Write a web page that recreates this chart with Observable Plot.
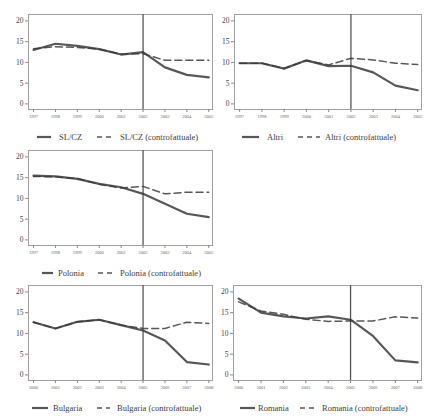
<!DOCTYPE html>
<html>
<head>
<meta charset="utf-8">
<script src="https://cdn.jsdelivr.net/npm/d3@7"></script>
<script src="https://cdn.jsdelivr.net/npm/@observablehq/plot@0.6"></script>
<style>
  html, body { margin: 0; padding: 0; background: #fff; }
  #root { position: relative; width: 425px; height: 416px; background: #fff; overflow: hidden; }
  .panel { position: absolute; }
  .legend { position: absolute; }
</style>
</head>
<body>
<div id="root"></div>
<script>
// ---- Data ----
const yearsA = [1997, 1998, 1999, 2000, 2001, 2002, 2003, 2004, 2005];
const yearsB = [2000, 2001, 2002, 2003, 2004, 2005, 2006, 2007, 2008];
const yTicks = [0, 5, 10, 15, 20];

const slczActual = [13.0, 14.5, 14.0, 13.2, 11.9, 12.5, 8.8, 7.0, 6.4];
const slczCf     = [13.3, 13.8, 13.6, 13.2, 12.0, 12.1, 10.5, 10.5, 10.5];

const altriActual = [9.8, 9.8, 8.5, 10.5, 9.1, 9.2, 7.6, 4.4, 3.3];
const altriCf     = [9.8, 9.8, 8.6, 10.4, 9.4, 11.0, 10.6, 9.8, 9.5];

const poloniaActual = [15.5, 15.3, 14.7, 13.5, 12.7, 11.1, 8.7, 6.3, 5.5];
const poloniaCf     = [15.3, 15.2, 14.8, 13.4, 12.5, 12.9, 11.1, 11.5, 11.5];

const bulgariaActual = [12.7, 11.2, 12.8, 13.3, 12.0, 10.7, 8.3, 3.1, 2.5];
const bulgariaCf     = [12.7, 11.2, 12.8, 13.3, 12.0, 11.2, 11.2, 12.7, 12.4];

const romaniaActual = [18.4, 15.0, 14.1, 13.6, 14.1, 13.3, 9.4, 3.5, 3.0];
const romaniaCf     = [17.6, 15.4, 14.6, 13.4, 12.9, 13.0, 13.0, 14.0, 13.7];

const treatA = 2002;
const treatB = 2005;

const labels = {
  slcz: "SL/CZ", altri: "Altri", polonia: "Polonia", bulgaria: "Bulgaria", romania: "Romania"
};
const cfSuffix = " (controfattuale)";

// ---- Drawing ----
const root = document.getElementById("root");
const lineColor = "#3a3a3a";
const font = "Liberation Serif, Times New Roman, serif";

function panel({years, actual, cf, treat, left, top, width, height, mL, mR, mT, mB}) {
  const chart = Plot.plot({
    width, height,
    marginLeft: mL, marginRight: mR, marginTop: mT, marginBottom: mB,
    style: { fontFamily: font, background: "transparent", overflow: "visible" },
    x: { domain: [years[0] - 0.23, years[years.length - 1] + 0.17] },
    y: { domain: [-1.35, 21.55] },
    marks: [
      Plot.frame({ stroke: "#a0a0a0", strokeWidth: 1 }),
      Plot.axisX({ ticks: years, tickFormat: d => String(d), tickSize: 3, tickPadding: 2,
                   fontSize: 4.5, stroke: "#888", fill: "#666", label: null }),
      Plot.axisY({ ticks: yTicks, tickSize: 3, tickPadding: 2, fontSize: 7.5,
                   stroke: "#888", fill: "#444", label: null }),
      Plot.ruleX([treat], { stroke: "#555", strokeWidth: 1.3 }),
      Plot.line(cf, { x: (d, i) => years[i], y: d => d, stroke: lineColor, strokeWidth: 1.5,
                      strokeDasharray: "7,4", strokeOpacity: 0.85 }),
      Plot.line(actual, { x: (d, i) => years[i], y: d => d, stroke: lineColor, strokeWidth: 2.2,
                          strokeOpacity: 0.85 })
    ]
  });
  const div = document.createElement("div");
  div.className = "panel";
  div.style.left = left + "px";
  div.style.top = top + "px";
  div.appendChild(chart);
  root.appendChild(div);
}

function legend({name, y, s1, s2, t1, d1, d2, t2}) {
  const svg = d3.select(root).append("svg")
    .attr("class", "legend")
    .attr("width", 425).attr("height", 20)
    .style("left", "0px").style("top", (y - 10) + "px");
  svg.append("line").attr("x1", s1).attr("x2", s2).attr("y1", 10).attr("y2", 10)
    .attr("stroke", lineColor).attr("stroke-width", 2.2).attr("stroke-opacity", 0.85);
  svg.append("text").attr("x", t1).attr("y", 10).attr("dy", "0.35em")
    .attr("font-family", font).attr("font-size", 8.5).attr("fill", "#3c3c3c").text(name);
  svg.append("line").attr("x1", d1).attr("x2", d2).attr("y1", 10).attr("y2", 10)
    .attr("stroke", lineColor).attr("stroke-width", 1.4).attr("stroke-dasharray", "5,4")
    .attr("stroke-opacity", 0.85);
  svg.append("text").attr("x", t2).attr("y", 10).attr("dy", "0.35em")
    .attr("font-family", font).attr("font-size", 8.5).attr("fill", "#3c3c3c").text(name + cfSuffix);
}

// Top-left: SL/CZ
panel({ years: yearsA, actual: slczActual, cf: slczCf, treat: treatA,
        left: 0, top: 0, width: 215, height: 125, mL: 28, mR: 3, mT: 14, mB: 16 });
legend({ name: labels.slcz, y: 137, s1: 37, s2: 51, t1: 59, d1: 97, d2: 114, t2: 120 });

// Top-right: Altri
panel({ years: yearsA, actual: altriActual, cf: altriCf, treat: treatA,
        left: 210, top: 0, width: 215, height: 125, mL: 24, mR: 4, mT: 14, mB: 16 });
legend({ name: labels.altri, y: 137, s1: 242, s2: 259, t1: 267, d1: 298, d2: 320, t2: 325 });

// Middle-left: Polonia
panel({ years: yearsA, actual: poloniaActual, cf: poloniaCf, treat: treatA,
        left: 0, top: 136, width: 215, height: 125, mL: 28, mR: 3, mT: 14, mB: 16 });
legend({ name: labels.polonia, y: 273, s1: 42, s2: 53, t1: 58, d1: 98, d2: 115, t2: 120 });

// Bottom-left: Bulgaria
panel({ years: yearsB, actual: bulgariaActual, cf: bulgariaCf, treat: treatB,
        left: 0, top: 271, width: 215, height: 125, mL: 28, mR: 3, mT: 14, mB: 16 });
legend({ name: labels.bulgaria, y: 408, s1: 32, s2: 48, t1: 53, d1: 97, d2: 110, t2: 117 });

// Bottom-right: Romania
panel({ years: yearsB, actual: romaniaActual, cf: romaniaCf, treat: treatB,
        left: 210, top: 271, width: 215, height: 125, mL: 23, mR: 4, mT: 14, mB: 16 });
legend({ name: labels.romania, y: 408, s1: 240, s2: 255, t1: 258, d1: 300, d2: 318, t2: 322 });
</script>
</body>
</html>
